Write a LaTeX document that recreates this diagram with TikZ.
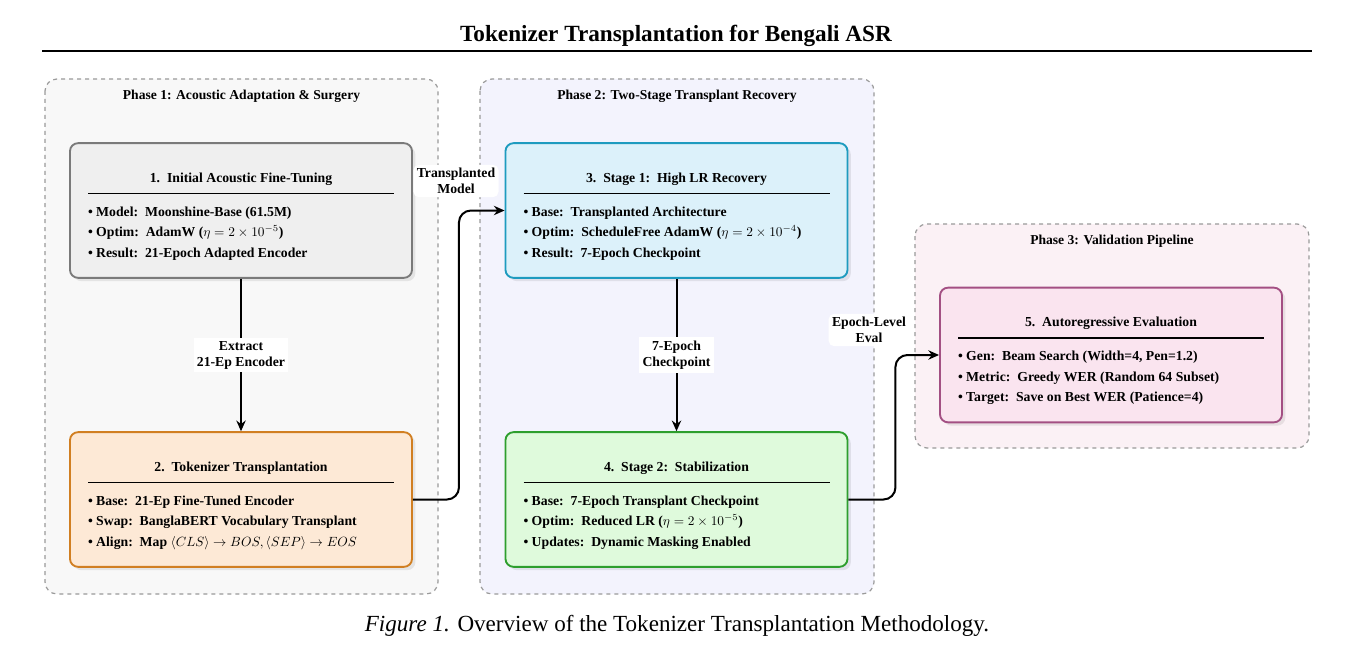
\documentclass[tikz,border=0pt]{standalone}
\usepackage{fontspec}
\setmainfont{Liberation Serif}
\usetikzlibrary{arrows.meta, positioning, calc, shadows}
\definecolor{dashgray}{HTML}{9A9A9A}
\definecolor{phonebg}{HTML}{F8F8F8}
\definecolor{phtwobg}{HTML}{F3F3FD}
\definecolor{phthreebg}{HTML}{FBF1F5}
\definecolor{acgray}{HTML}{7A7A7A}
\definecolor{acgrayfill}{HTML}{EFEFEF}
\definecolor{tkorange}{HTML}{D17F22}
\definecolor{tkorangefill}{HTML}{FDE9D6}
\definecolor{rcblue}{HTML}{1E9BBF}
\definecolor{rcbluefill}{HTML}{DCF1FA}
\definecolor{stgreen}{HTML}{2E9E2E}
\definecolor{stgreenfill}{HTML}{DFFADC}
\definecolor{evpink}{HTML}{A34F83}
\definecolor{evpinkfill}{HTML}{FAE4EF}

\newcommand{\stagetext}[2]{%
  \begin{minipage}{229.5pt}\fontsize{10.3}{15.4}\selectfont\centering
  \vspace*{9pt}
  \textbf{#1}\par\vspace{-6.4pt}
  \rule{\linewidth}{1pt}\par\vspace{1pt}
  \raggedright\bfseries #2
  \end{minipage}}

\begin{document}
\begin{tikzpicture}[x=0.75pt, y=-0.75pt,
  phase/.style={draw=dashgray, dashed, line width=0.9pt, rounded corners=9pt},
  phlab/.style={font=\bfseries\fontsize{10.2}{12}\selectfont},
  stage/.style={rectangle, rounded corners=6pt, line width=1.4pt, inner sep=0pt,
    minimum width=256.5pt, minimum height=101pt,
    drop shadow={shadow xshift=2.5pt, shadow yshift=-2.5pt, opacity=0.08, fill=black}},
  >={Stealth[length=8pt, width=7pt]},
  arr/.style={draw=black, line width=1.5pt, ->},
  lab/.style={fill=white, rounded corners=4pt, inner sep=2.5pt, align=center,
    font=\bfseries\fontsize{10.3}{12}\selectfont},
]
\useasboundingbox (0,0) rectangle (1352,656);

% Title
\node[font=\bfseries\fontsize{17.4}{20}\selectfont] (title) at (676,36)
  {Tokenizer Transplantation for Bengali ASR};
\draw[line width=2pt] (42,51) -- (1312,51);

% Phase backgrounds
\draw[phase, fill=phonebg] (45,79) rectangle (438,594);
\draw[phase, fill=phtwobg] (480,79) rectangle (874,594);
\draw[phase, fill=phthreebg] (915,224) rectangle (1309,448);
\node[phlab] (p1) at (241.5,96.5) {Phase 1: Acoustic Adaptation \& Surgery};
\node[phlab] (p2) at (677,96.5) {Phase 2: Two-Stage Transplant Recovery};
\node[phlab] (p3) at (1112,241.5) {Phase 3: Validation Pipeline};

% Stages
\node[stage, draw=acgray, fill=acgrayfill] (b1) at (241,210.5)
  {\stagetext{1.~~Initial Acoustic Fine-Tuning}{%
    \textbullet~Model:~~Moonshine-Base (61.5M)\\
    \textbullet~Optim:~~AdamW ($\eta = 2\times10^{-5}$)\\
    \textbullet~Result:~~21-Epoch Adapted Encoder}};
\node[stage, draw=tkorange, fill=tkorangefill] (b2) at (241,499.5)
  {\stagetext{2.~~Tokenizer Transplantation}{%
    \textbullet~Base:~~21-Ep Fine-Tuned Encoder\\
    \textbullet~Swap:~~BanglaBERT Vocabulary Transplant\\
    \textbullet~Align:~~Map $\langle CLS\rangle \rightarrow BOS, \langle SEP\rangle \rightarrow EOS$}};
\node[stage, draw=rcblue, fill=rcbluefill] (b3) at (676.5,210.5)
  {\stagetext{3.~~Stage 1:~~High LR Recovery}{%
    \textbullet~Base:~~Transplanted Architecture\\
    \textbullet~Optim:~~ScheduleFree AdamW ($\eta = 2\times10^{-4}$)\\
    \textbullet~Result:~~7-Epoch Checkpoint}};
\node[stage, draw=stgreen, fill=stgreenfill] (b4) at (676.5,499.5)
  {\stagetext{4.~~Stage 2:~~Stabilization}{%
    \textbullet~Base:~~7-Epoch Transplant Checkpoint\\
    \textbullet~Optim:~~Reduced LR ($\eta = 2\times10^{-5}$)\\
    \textbullet~Updates:~~Dynamic Masking Enabled}};
\node[stage, draw=evpink, fill=evpinkfill] (b5) at (1111,355)
  {\stagetext{5.~~Autoregressive Evaluation}{%
    \textbullet~Gen:~~Beam Search (Width=4, Pen=1.2)\\
    \textbullet~Metric:~~Greedy WER (Random 64 Subset)\\
    \textbullet~Target:~~Save on Best WER (Patience=4)}};

% Flow
\draw[arr] (b1) -- node[lab, rounded corners=0pt] {Extract\\21-Ep Encoder} (b2);
\draw[arr] (b3) -- node[lab, rounded corners=0pt] {7-Epoch\\Checkpoint} (b4);
\draw[arr, rounded corners=9pt] (b2.east) -- ++(46,0) |- (b3.west);
\draw[arr, rounded corners=9pt] (b4.east) -- ++(47,0) |- (b5.west);
\node[lab] (tm) at (456,181) {Transplanted\\Model};
\node[lab] (ev) at (869,330) {Epoch-Level\\Eval};

% Caption
\node[font=\fontsize{17.3}{20}\selectfont] (cap) at (677,626)
  {\textit{Figure 1.} Overview of the Tokenizer Transplantation Methodology.};
\end{tikzpicture}
\end{document}
